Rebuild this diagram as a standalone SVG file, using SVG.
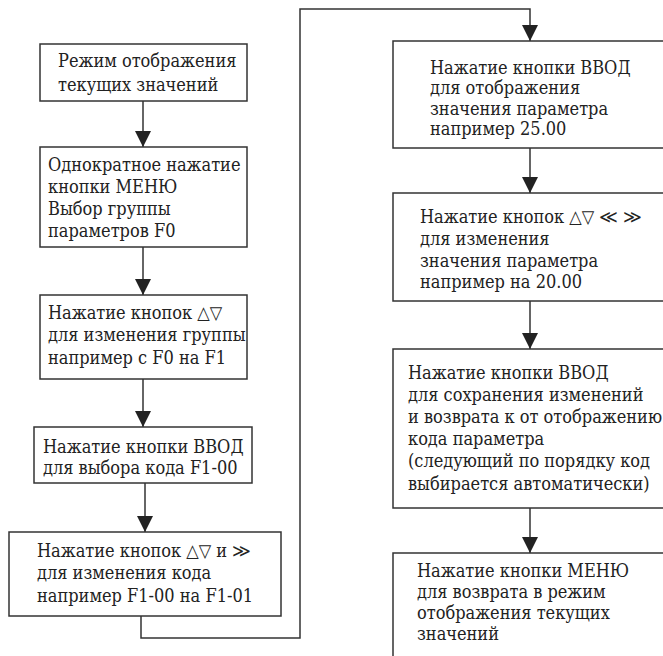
<svg xmlns="http://www.w3.org/2000/svg" width="663" height="656" viewBox="0 0 663 656">
<defs>
<style>
.box{fill:#fff;stroke:#333;stroke-width:1.5}
.ln{fill:none;stroke:#333;stroke-width:1.5}
.t{font-family:'DejaVu Serif Condensed','DejaVu Serif',serif;font-stretch:condensed;font-size:18px;fill:#222}
</style>
<marker id="ah" markerUnits="userSpaceOnUse" markerWidth="18" markerHeight="16" refX="16" refY="8" orient="auto">
<path d="M0,0 L16,8 L0,16 Z" fill="#222"/>
</marker>
</defs>
<rect width="663" height="656" fill="#fff"/>
<g id="connectors">
<line class="ln" x1="143" y1="101" x2="143" y2="147" marker-end="url(#ah)"/>
<line class="ln" x1="143" y1="247" x2="143" y2="295" marker-end="url(#ah)"/>
<line class="ln" x1="143" y1="379" x2="143" y2="427" marker-end="url(#ah)"/>
<line class="ln" x1="145" y1="483" x2="145" y2="532" marker-end="url(#ah)"/>
<path class="ln" d="M141,616 V638 H300 V9 H530 V41" marker-end="url(#ah)"/>
<line class="ln" x1="530" y1="148" x2="530" y2="193" marker-end="url(#ah)"/>
<line class="ln" x1="530" y1="301" x2="530" y2="349" marker-end="url(#ah)"/>
<line class="ln" x1="530" y1="508" x2="530" y2="553" marker-end="url(#ah)"/>
</g>
<g class="t">
<g id="n1"><rect class="box" x="40" y="44" width="207" height="57"/>
<text x="58" y="67">Режим отображения</text><text x="58" y="91">текущих значений</text></g>
<g id="n2"><rect class="box" x="40" y="147" width="207" height="100"/>
<text x="48" y="171">Однократное нажатие</text><text x="48" y="193">кнопки МЕНЮ</text><text x="48" y="215">Выбор группы</text><text x="48" y="237">параметров F0</text></g>
<g id="n3"><rect class="box" x="40" y="295" width="207" height="84"/>
<text x="48" y="319">Нажатие кнопок △▽</text><text x="48" y="341">для изменения группы</text><text x="48" y="364">например с F0 на F1</text></g>
<g id="n4"><rect class="box" x="34" y="427" width="218" height="56"/>
<text x="43" y="453">Нажатие кнопки ВВОД</text><text x="43" y="474">для выбора кода F1-00</text></g>
<g id="n5"><rect class="box" x="9" y="532" width="272" height="84"/>
<text x="37" y="557">Нажатие кнопок △▽ и ≫</text><text x="37" y="579">для изменения кода</text><text x="37" y="602">например F1-00 на F1-01</text></g>
<g id="n6"><rect class="box" x="393" y="41" width="280" height="107"/>
<text x="430" y="74">Нажатие кнопки ВВОД</text><text x="430" y="94">для отображения</text><text x="430" y="115">значения параметра</text><text x="430" y="135">например 25.00</text></g>
<g id="n7"><rect class="box" x="393" y="193" width="280" height="108"/>
<text x="420" y="223">Нажатие кнопок △▽ ≪ ≫</text><text x="420" y="245">для изменения</text><text x="420" y="267">значения параметра</text><text x="420" y="288">например на 20.00</text></g>
<g id="n8"><rect class="box" x="393" y="349" width="280" height="159"/>
<text x="408" y="379">Нажатие кнопки ВВОД</text><text x="408" y="401">для сохранения изменений</text><text x="408" y="423">и возврата к от отображению</text><text x="408" y="445">кода параметра</text><text x="408" y="467">(следующий по порядку код</text><text x="408" y="490">выбирается автоматически)</text></g>
<g id="n9"><rect class="box" x="393" y="553" width="280" height="120"/>
<text x="417" y="577">Нажатие кнопки МЕНЮ</text><text x="417" y="598">для возврата в режим</text><text x="417" y="619">отображения текущих</text><text x="417" y="640">значений</text></g>
</g>
</svg>
